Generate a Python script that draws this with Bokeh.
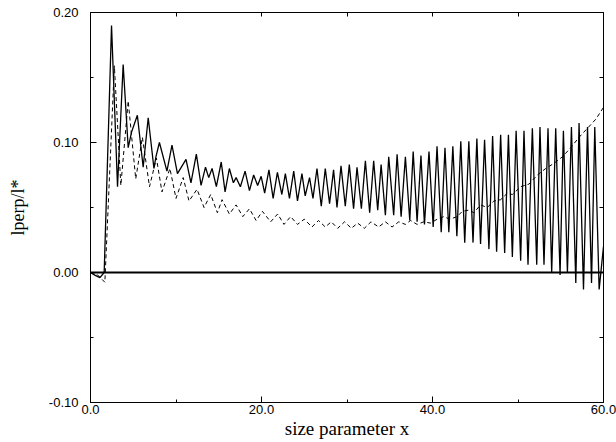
from bokeh.plotting import figure
from bokeh.models import LinearAxis, FixedTicker, PrintfTickFormatter, Span, Range1d
from bokeh.embed import file_html
from bokeh.resources import INLINE

# ---- data ----
solid_x = [
    0.0, 0.5, 1.1, 1.6, 2.46, 3.16, 3.82, 4.41, 4.80, 5.48,
    6.16, 6.75, 7.42, 7.65, 8.06, 8.94, 9.53, 10.17, 11.17, 11.75,
    12.38, 12.93, 13.45, 13.83, 14.22, 14.72, 15.29, 15.74, 16.24, 16.71,
    17.03, 17.53, 18.08, 18.59, 19.08, 19.55, 19.96, 20.37, 20.87, 21.36,
    21.86, 22.38, 22.79, 23.27, 23.77, 24.21, 24.73, 25.11, 25.62, 26.02,
    26.49, 26.99, 27.46, 27.96, 28.43, 28.83, 29.30, 29.80, 30.27, 30.77,
    31.17, 31.68, 32.15, 32.65, 33.12, 33.59, 33.99, 34.49, 34.88, 35.46,
    35.86, 36.33, 36.83, 37.34, 37.74, 38.20, 38.65, 39.06, 39.59, 40.08,
    40.53, 41.02, 41.46, 41.91, 42.38, 42.85, 43.31, 43.77, 44.25, 44.74,
    45.19, 45.62, 46.09, 46.60, 47.03, 47.50, 47.97, 48.44, 48.88, 49.34,
    49.78, 50.31, 50.70, 51.17, 51.68, 52.19, 52.57, 53.04, 53.51, 53.94,
    54.41, 54.92, 55.31, 55.78, 56.25, 56.76, 57.14, 57.66, 58.13, 58.60,
    58.98, 59.49, 60.0,
]
solid_y = [
    0.0, -0.002, -0.004, 0.0, 0.190, 0.066, 0.160, 0.096, 0.108, 0.121,
    0.081, 0.119, 0.080, 0.089, 0.100, 0.078, 0.098, 0.076, 0.087, 0.069,
    0.091, 0.067, 0.081, 0.073, 0.080, 0.066, 0.085, 0.062, 0.080, 0.069,
    0.073, 0.066, 0.078, 0.063, 0.075, 0.067, 0.074, 0.061, 0.079, 0.057,
    0.077, 0.060, 0.076, 0.057, 0.078, 0.055, 0.076, 0.059, 0.073, 0.057,
    0.080, 0.051, 0.080, 0.053, 0.079, 0.050, 0.082, 0.051, 0.083, 0.049,
    0.081, 0.049, 0.086, 0.046, 0.086, 0.048, 0.083, 0.044, 0.089, 0.044,
    0.091, 0.043, 0.089, 0.040, 0.093, 0.039, 0.090, 0.037, 0.093, 0.035,
    0.097, 0.031, 0.096, 0.031, 0.097, 0.028, 0.101, 0.023, 0.101, 0.023,
    0.103, 0.022, 0.102, 0.018, 0.105, 0.016, 0.106, 0.015, 0.106, 0.012,
    0.109, 0.009, 0.109, 0.006, 0.111, 0.006, 0.112, 0.006, 0.111, 0.000,
    0.111, -0.002, 0.109, 0.000, 0.112, -0.008, 0.115, -0.013, 0.112, -0.008,
    0.112, -0.013, 0.02,
]

dashed_x = [
    0.0, 0.7, 1.68, 2.79, 3.55, 4.41, 5.29, 6.07, 6.90, 7.71,
    8.36, 9.29, 10.0, 10.84, 11.52, 12.46, 13.28, 14.06, 14.84, 15.39,
    16.24, 17.03, 17.81, 18.59, 19.37, 20.11, 21.07, 21.89, 22.63, 23.41,
    24.21, 25.0, 25.9, 26.67, 27.46, 28.16, 28.90, 29.72, 30.51, 31.24,
    32.03, 32.81, 33.70, 34.49, 35.27, 36.05, 36.83, 37.42, 38.2, 38.98,
    39.76, 40.55, 41.32, 42.02, 42.89, 43.48, 44.25, 44.84, 45.62, 46.40,
    47.18, 47.97, 48.75, 49.34, 50.31, 51.28, 52.27, 53.24, 54.21, 55.20,
    56.17, 57.14, 58.13, 59.11, 60.0,
]
dashed_y = [
    0.0, -0.001, -0.0075, 0.159, 0.067, 0.132, 0.072, 0.104, 0.066, 0.088,
    0.062, 0.080, 0.057, 0.073, 0.055, 0.064, 0.050, 0.060, 0.046, 0.056,
    0.045, 0.052, 0.043, 0.049, 0.040, 0.047, 0.039, 0.045, 0.037, 0.043,
    0.037, 0.041, 0.035, 0.040, 0.035, 0.039, 0.034, 0.039, 0.034, 0.038,
    0.034, 0.039, 0.035, 0.039, 0.035, 0.039, 0.037, 0.040, 0.037, 0.039,
    0.038, 0.041, 0.043, 0.041, 0.043, 0.047, 0.048, 0.046, 0.052, 0.050,
    0.055, 0.056, 0.061, 0.060, 0.066, 0.068, 0.075, 0.080, 0.084, 0.089,
    0.096, 0.104, 0.111, 0.118, 0.127,
]

x_major = [0, 20, 40, 60]
x_minor = [10, 30, 50]
x_top = [10, 20, 30, 40, 50]
y_major = [-0.1, 0.0, 0.1, 0.2]
y_minor = [-0.05, 0.05, 0.15]
y_right = [-0.05, 0.0, 0.05, 0.1, 0.15]

x_title = "size parameter x"
y_title = "lperp/l*"

TICK_FONT = "Liberation Sans"
LABEL_FONT = "Liberation Serif"

p = figure(width=616, height=442,
           x_range=Range1d(0, 60), y_range=Range1d(-0.1, 0.2),
           output_backend="svg", toolbar_location=None,
           min_border_left=90, min_border_right=13,
           min_border_top=12, min_border_bottom=40)

p.xgrid.visible = False
p.ygrid.visible = False
p.background_fill_color = "white"
p.border_fill_color = "white"
p.outline_line_color = "black"
p.outline_line_width = 1

xb = p.below[0]
yl = p.left[0]

for ax in (xb, yl):
    ax.major_tick_in = 6
    ax.major_tick_out = 0
    ax.minor_tick_in = 3
    ax.minor_tick_out = 0
    ax.axis_line_color = "black"
    ax.major_tick_line_color = "black"
    ax.minor_tick_line_color = "black"
    ax.major_label_text_font = TICK_FONT
    ax.major_label_text_font_size = "13px"
    ax.major_label_text_color = "black"
    ax.axis_label_text_font = LABEL_FONT
    ax.axis_label_text_font_style = "normal"
    ax.axis_label_text_color = "black"

xb.ticker = FixedTicker(ticks=x_major, minor_ticks=x_minor)
xb.formatter = PrintfTickFormatter(format="%.1f")
xb.axis_label = x_title
xb.axis_label_text_font_size = "19px"
xb.major_label_standoff = 2
xb.axis_label_standoff = 1

yl.ticker = FixedTicker(ticks=y_major, minor_ticks=y_minor)
yl.formatter = PrintfTickFormatter(format="%.2f")
yl.axis_label = y_title
yl.axis_label_text_font_size = "18px"
yl.major_label_standoff = 12
yl.axis_label_standoff = 18

# right and top frames carry ticks only (no labels)
ry = LinearAxis(ticker=FixedTicker(ticks=[], minor_ticks=y_right),
                major_tick_in=0, major_tick_out=0, minor_tick_in=4, minor_tick_out=0,
                axis_line_color="black", minor_tick_line_color="black")
p.add_layout(ry, "right")

tx = LinearAxis(ticker=FixedTicker(ticks=[], minor_ticks=x_top),
                major_tick_in=0, major_tick_out=0, minor_tick_in=4, minor_tick_out=0,
                axis_line_color="black", minor_tick_line_color="black")
p.add_layout(tx, "above")

p.add_layout(Span(location=0, dimension="width", line_color="black", line_width=1.8))

p.line(dashed_x, dashed_y, line_color="black", line_width=1.0, line_dash="4 3")
p.line(solid_x, solid_y, line_color="black", line_width=1.3)

open("out.html", "w").write(file_html(p, INLINE))
